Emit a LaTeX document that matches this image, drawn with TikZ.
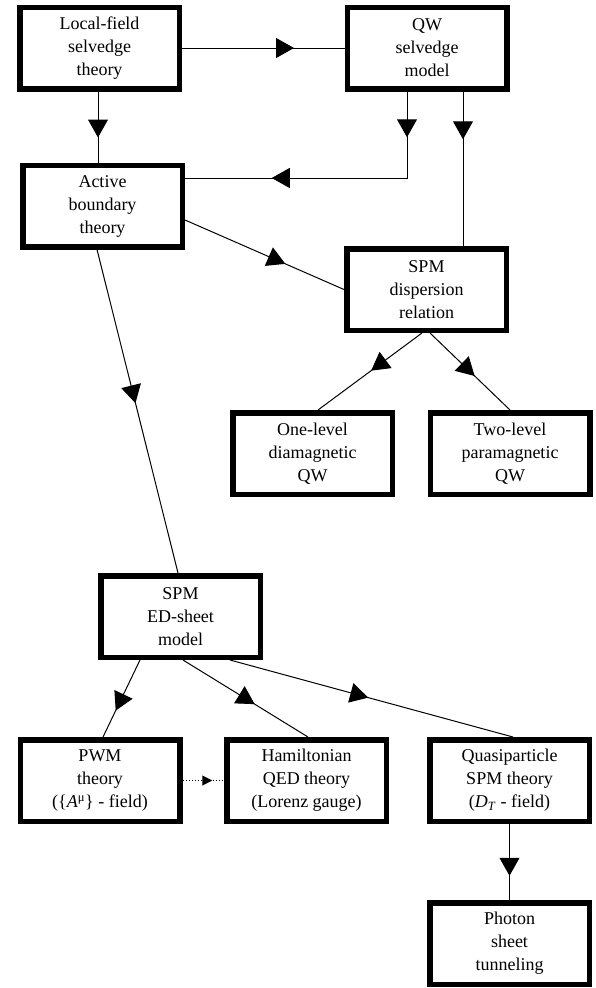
\documentclass[tikz,border=0pt]{standalone}
\usepackage{fontspec}
\setmainfont{Liberation Serif}
\usetikzlibrary{arrows.meta,decorations.markings}
\begin{document}
\begin{tikzpicture}[x=1pt,y=-1pt,
  box/.style={draw, line width=5.5pt, minimum width=159.5pt, minimum height=81.5pt,
    inner sep=0pt, align=center, font=\fontsize{18}{23}\selectfont},
  conn/.style={line width=1pt},
  tipat/.style={postaction={decorate}, decoration={markings,
    mark=at position #1 with {\arrow{Triangle[length=18pt,width=20pt]}}}},
  smalltipat/.style={postaction={decorate}, decoration={markings,
    mark=at position #1 with {\arrow{Triangle[length=10pt,width=10pt]}}}},
  twotips/.style 2 args={postaction={decorate}, decoration={markings,
    mark=at position #1 with {\arrow{Triangle[length=18pt,width=20pt]}},
    mark=at position #2 with {\arrow{Triangle[length=18pt,width=20pt]}}}}
]
\useasboundingbox (0,0) rectangle (596,988);

\node[box] (lf)  at (99.5,48)   {Local-field\\selvedge\\theory};
\node[box] (qw)  at (427,48)    {QW\\selvedge\\model};
\node[box] (ab)  at (102.5,206) {Active\\boundary\\theory};
\node[box] (spd) at (426.5,289.5) {SPM\\dispersion\\relation};
\node[box] (one) at (312.5,453.5) {One-level\\diamagnetic\\QW};
\node[box] (two) at (510,453.5) {Two-level\\paramagnetic\\QW};
\node[box] (sed) at (180.5,616.5) {SPM\\ED-sheet\\model};
\node[box] (pwm) at (100,780.5) {PWM\\theory\\(\{\textit{A}\textsuperscript{μ}\} - field)};
\node[box] (ham) at (306.5,780.5) {Hamiltonian\\QED theory\\(Lorenz gauge)};
\node[box] (qp)  at (509.5,780.5) {Quasiparticle\\SPM theory\\(\textit{D}\textsubscript{\textit{T}} - field)};
\node[box] (ph)  at (509.5,943.5) {Photon\\sheet\\tunneling};

\coordinate (s1) at ([xshift=-1.5pt]lf.south);
\coordinate (s4) at ([xshift=36pt]qw.south);

\draw[conn, tipat=112pt] (lf.east) -- (qw.west);
\draw[conn, tipat=46pt] (s1) -- (s1 |- ab.north);
\draw[conn, twotips={45.75pt}{221.75pt}] ([xshift=-20pt]qw.south) |- ([yshift=28pt]ab.east);
\draw[conn, tipat=47.75pt] (s4) -- (s4 |- spd.north);
\draw[conn, tipat=109.5pt] ([yshift=-14pt]ab.east) -- (spd.west);
\draw[conn, tipat=63.3pt] ([xshift=-4.5pt]spd.south) -- ([xshift=5.5pt]one.north);
\draw[conn, tipat=62pt] ([xshift=3.5pt]spd.south) -- (two.north);
\draw[conn, tipat=158.4pt] ([xshift=-5.5pt]ab.south) -- ([xshift=-2.5pt]sed.north);
\draw[conn, tipat=56.1pt] ([xshift=-40.5pt]sed.south) -- ([xshift=3pt]pwm.north);
\draw[conn, tipat=84.2pt] ([xshift=2.5pt]sed.south) -- ([xshift=1.5pt]ham.north);
\draw[conn, tipat=143.2pt] ([xshift=49.5pt]sed.south) -- ([xshift=3.5pt]qp.north);
\draw[conn, dotted, smalltipat=29.75pt] (pwm.east) -- (ham.west);
\draw[conn, tipat=51.75pt] (qp.south) -- (ph.north);
\end{tikzpicture}
\end{document}
